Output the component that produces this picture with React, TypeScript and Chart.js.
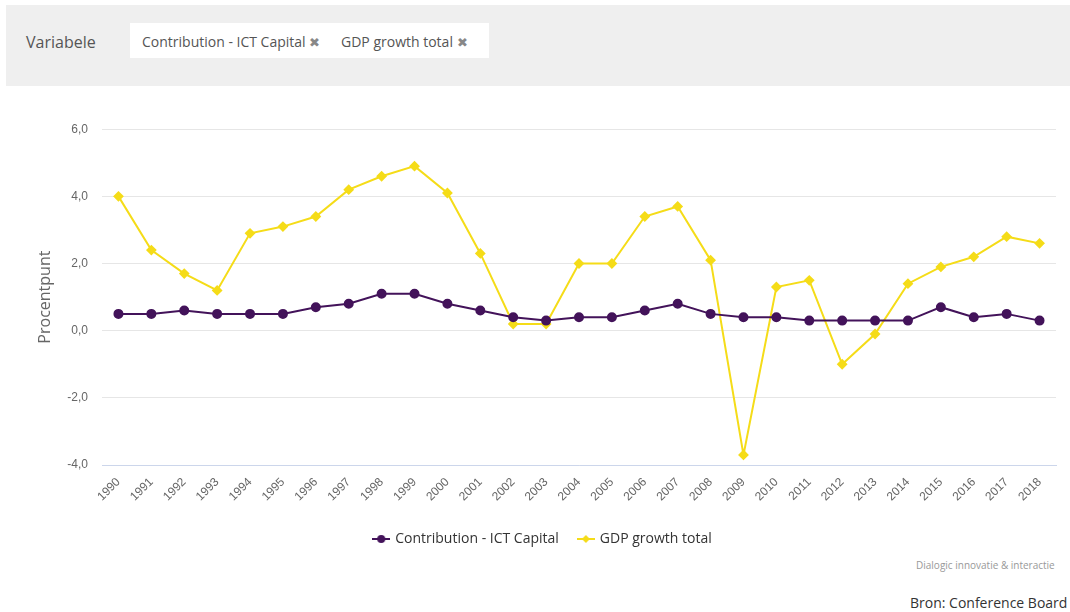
import React, { useEffect, useRef } from "react";
import { Chart, registerables } from "chart.js";

Chart.register(...registerables);

const years = ["1990","1991","1992","1993","1994","1995","1996","1997","1998","1999","2000","2001","2002","2003","2004","2005","2006","2007","2008","2009","2010","2011","2012","2013","2014","2015","2016","2017","2018"];
const ictCapital = [0.5,0.5,0.6,0.5,0.5,0.5,0.7,0.8,1.1,1.1,0.8,0.6,0.4,0.3,0.4,0.4,0.6,0.8,0.5,0.4,0.4,0.3,0.3,0.3,0.3,0.7,0.4,0.5,0.3];
const gdpGrowth = [4.0,2.4,1.7,1.2,2.9,3.1,3.4,4.2,4.6,4.9,4.1,2.3,0.2,0.2,2.0,2.0,3.4,3.7,2.1,-3.7,1.3,1.5,-1.0,-0.1,1.4,1.9,2.2,2.8,2.6];
const seriesNames = ["Contribution - ICT Capital", "GDP growth total"];
const yAxisTitle = "Procentpunt";

const PURPLE = "#43135a";
const YELLOW = "#f5dc18";

function legendIcon(color: string, style: "circle" | "diamond") {
  const c = document.createElement("canvas");
  c.width = 18;
  c.height = 10;
  const ctx = c.getContext("2d")!;
  ctx.strokeStyle = color;
  ctx.lineWidth = 2;
  ctx.beginPath();
  ctx.moveTo(0, 5);
  ctx.lineTo(18, 5);
  ctx.stroke();
  ctx.fillStyle = color;
  ctx.beginPath();
  if (style === "circle") {
    ctx.arc(9, 5, 4, 0, Math.PI * 2);
  } else {
    ctx.moveTo(9, 1);
    ctx.lineTo(13, 5);
    ctx.lineTo(9, 9);
    ctx.lineTo(5, 5);
    ctx.closePath();
  }
  ctx.fill();
  return c;
}

export default function App() {
  const ref = useRef<HTMLCanvasElement>(null);

  useEffect(() => {
    document.body.style.margin = "0";
    const icons = [legendIcon(PURPLE, "circle"), legendIcon(YELLOW, "diamond")];
    const chart = new Chart(ref.current!, {
      type: "line",
      data: {
        labels: years,
        datasets: [
          {
            label: seriesNames[0],
            data: ictCapital,
            borderColor: PURPLE,
            backgroundColor: PURPLE,
            borderWidth: 2,
            pointStyle: "circle",
            pointRadius: 4,
            pointHoverRadius: 4,
            tension: 0,
          },
          {
            label: seriesNames[1],
            data: gdpGrowth,
            borderColor: YELLOW,
            backgroundColor: YELLOW,
            borderWidth: 2,
            pointStyle: "rectRot",
            pointRadius: 4,
            pointHoverRadius: 4,
            tension: 0,
          },
        ],
      },
      options: {
        animation: false,
        responsive: false,
        maintainAspectRatio: false,
        layout: { padding: { top: 12, right: 14, left: 0, bottom: 0 } },
        plugins: {
          tooltip: { enabled: false },
          legend: {
            position: "bottom",
            labels: {
              usePointStyle: true,
              font: { family: "'Open Sans', sans-serif", size: 14 },
              color: "#333333",
              padding: 20,
              generateLabels: (ch: any) =>
                ch.data.datasets.map((ds: any, i: number) => ({
                  text: ds.label,
                  fillStyle: ds.backgroundColor,
                  strokeStyle: ds.borderColor,
                  pointStyle: icons[i],
                  lineWidth: 0,
                  hidden: false,
                  datasetIndex: i,
                  fontColor: "#333333",
                })),
            },
          },
        },
        scales: {
          x: {
            offset: true,
            grid: { display: false },
            border: { display: true, color: "#ccd6eb", width: 1 },
            ticks: {
              minRotation: 45,
              maxRotation: 45,
              autoSkip: false,
              color: "#666666",
              font: { family: "'Liberation Sans', Arial, sans-serif", size: 12 },
              padding: 2,
            },
            afterFit: (s: any) => {
              s.height = 47;
            },
          },
          y: {
            min: -4,
            max: 6,
            grid: {
              color: "#e6e6e6",
              drawTicks: false,
            },
            border: { display: false },
            ticks: {
              stepSize: 2,
              color: "#666666",
              padding: 14,
              font: { family: "'Liberation Sans', Arial, sans-serif", size: 12 },
              callback: (v: any) => Number(v).toFixed(1).replace(".", ","),
            },
            title: {
              display: true,
              text: yAxisTitle,
              color: "#666666",
              font: { family: "'Open Sans', sans-serif", size: 16 },
              padding: { top: 6, bottom: 0 },
            },
            afterFit: (s: any) => {
              s.width = 72;
            },
          },
        },
      },
    });
    return () => chart.destroy();
  }, []);

  return (
    <div style={{ position: "relative", width: 1070, height: 612, background: "#fff", overflow: "hidden" }}>
      <div
        style={{
          position: "absolute",
          left: 6,
          top: 5,
          width: 1064,
          height: 81,
          background: "#efefef",
        }}
      />
      <div
        style={{
          position: "absolute",
          left: 26,
          top: 32,
          fontFamily: "'Open Sans', sans-serif",
          fontSize: 16,
          color: "#555",
          lineHeight: "20px",
        }}
      >
        Variabele
      </div>
      <div
        style={{
          position: "absolute",
          left: 130,
          top: 23,
          width: 359,
          height: 35,
          background: "#fff",
          fontFamily: "'Open Sans', sans-serif",
          fontSize: 14,
          color: "#555",
          lineHeight: "37px",
          whiteSpace: "nowrap",
        }}
      >
        <span style={{ position: "absolute", left: 12 }}>
          {seriesNames[0]} <span style={{ color: "#888", fontSize: 13 }}>✖</span>
        </span>
        <span style={{ position: "absolute", left: 211 }}>
          {seriesNames[1]} <span style={{ color: "#888", fontSize: 13 }}>✖</span>
        </span>
      </div>
      <canvas
        ref={ref}
        width={1040}
        height={448}
        style={{ position: "absolute", left: 30, top: 108, width: 1040, height: 448 }}
      />
      <div
        style={{
          position: "absolute",
          left: 916,
          top: 558,
          fontFamily: "'Open Sans', sans-serif",
          fontSize: 10,
          color: "#999",
          whiteSpace: "nowrap",
        }}
      >
        Dialogic innovatie &amp; interactie
      </div>
      <div
        style={{
          position: "absolute",
          left: 910,
          top: 593,
          fontFamily: "'Open Sans', sans-serif",
          fontSize: 14,
          color: "#333",
          whiteSpace: "nowrap",
        }}
      >
        Bron: Conference Board
      </div>
    </div>
  );
}
